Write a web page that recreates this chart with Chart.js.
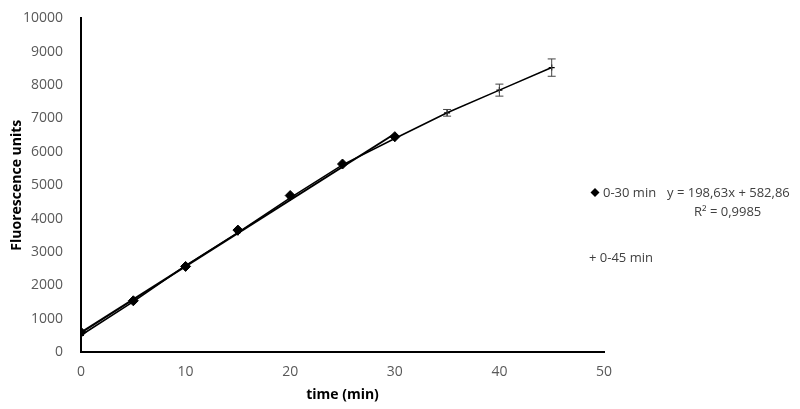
<!DOCTYPE html>
<html>
<head>
<meta charset="utf-8">
<script src="https://cdn.jsdelivr.net/npm/chart.js@4/dist/chart.umd.min.js"></script>
<style>
  html, body { margin: 0; padding: 0; background: #fff; }
  #wrap { width: 800px; height: 409px; }
</style>
</head>
<body>
<div id="wrap"><canvas id="fluoChart"></canvas></div>
<script>
// Data
const timeShort = [0, 5, 10, 15, 20, 25, 30];
const fluoShort = [590, 1535, 2565, 3655, 4690, 5635, 6455];
const timeLong = [0, 5, 10, 15, 20, 25, 30, 35, 40, 45];
const fluoLong = [500, 1510, 2590, 3580, 4620, 5610, 6400, 7170, 7850, 8525];
const errLong = [0, 0, 0, 0, 0, 0, 0, 100, 180, 260];
const trendX = [0, 30];
const trendY = [582.86, 6541.76];
const xTicks = [0, 10, 20, 30, 40, 50];

const tickColor = '#595959';
const fontFam = '"Open Sans", "DejaVu Sans", sans-serif';

const pairs = (xs, ys) => xs.map((x, i) => ({ x: x, y: ys[i] }));

// error bars for the 0-45 series
const errorBars = {
    id: 'errorBars',
    afterDatasetsDraw(chart) {
        const ctx = chart.ctx;
        const xs = chart.scales.x, ys = chart.scales.y;
        ctx.save();
        ctx.strokeStyle = '#444';
        ctx.lineWidth = 1;
        timeLong.forEach((t, i) => {
            if (!errLong[i]) return;
            const px = xs.getPixelForValue(t);
            const top = ys.getPixelForValue(fluoLong[i] + errLong[i]);
            const bot = ys.getPixelForValue(fluoLong[i] - errLong[i]);
            ctx.beginPath();
            ctx.moveTo(px, top); ctx.lineTo(px, bot);
            ctx.moveTo(px - 4, top); ctx.lineTo(px + 4, top);
            ctx.moveTo(px - 4, bot); ctx.lineTo(px + 4, bot);
            ctx.stroke();
        });
        ctx.restore();
    }
};

// legend with trendline label, drawn at the right like the original
const sideLegend = {
    id: 'sideLegend',
    afterDraw(chart) {
        const ctx = chart.ctx;
        ctx.save();
        ctx.font = '13px ' + fontFam;
        ctx.textBaseline = 'middle';
        // diamond
        ctx.fillStyle = '#000';
        ctx.beginPath();
        ctx.moveTo(595, 188); ctx.lineTo(599.5, 192.5); ctx.lineTo(595, 197); ctx.lineTo(590.5, 192.5);
        ctx.closePath(); ctx.fill();
        ctx.fillStyle = '#404040';
        ctx.fillText('0-30 min', 603, 193);
        ctx.fillText('y = 198,63x + 582,86', 667, 193);
        ctx.fillText('R\u00B2 = 0,9985', 694, 212);
        ctx.fillText('+ 0-45 min', 589, 258);
        ctx.restore();
    }
};

new Chart(document.getElementById('fluoChart'), {
    type: 'scatter',
    data: {
        datasets: [
            {
                label: '0-45 min',
                data: pairs(timeLong, fluoLong),
                showLine: true,
                borderColor: '#000',
                borderWidth: 1.6,
                pointStyle: 'cross',
                pointRadius: 3,
                pointBorderColor: '#000',
                pointBorderWidth: 1.2
            },
            {
                label: 'trend',
                data: pairs(trendX, trendY),
                showLine: true,
                borderColor: '#000',
                borderWidth: 2,
                pointRadius: 0
            },
            {
                label: '0-30 min',
                data: pairs(timeShort, fluoShort),
                showLine: false,
                pointStyle: 'rectRot',
                pointRadius: 5,
                backgroundColor: '#000',
                borderColor: '#000'
            }
        ]
    },
    options: {
        responsive: true,
        maintainAspectRatio: false,
        animation: false,
        layout: { padding: { left: 0, right: 196, top: 13, bottom: 0 } },
        plugins: {
            legend: { display: false },
            tooltip: { enabled: false }
        },
        scales: {
            x: {
                type: 'linear',
                min: 0,
                max: 50,
                afterBuildTicks: (s) => { s.ticks = xTicks.map(v => ({ value: v })); },
                afterFit: (s) => { s.height = 57; },
                grid: { display: false },
                border: { display: true, color: '#000', width: 2 },
                ticks: { color: tickColor, padding: 4, font: { family: fontFam, size: 14 } },
                title: {
                    display: true,
                    text: 'time (min)',
                    color: '#000',
                    font: { family: fontFam, size: 14, weight: 'bold' },
                    padding: { top: 4, bottom: 6 }
                }
            },
            y: {
                min: 0,
                max: 10000,
                afterFit: (s) => { s.width = 81; },
                grid: { display: false },
                border: { display: true, color: '#000', width: 2 },
                ticks: {
                    stepSize: 1000,
                    color: tickColor,
                    padding: 10,
                    font: { family: fontFam, size: 14 },
                    callback: (v) => String(v)
                },
                title: {
                    display: true,
                    text: 'Fluorescence units',
                    color: '#000',
                    font: { family: fontFam, size: 14, weight: 'bold' },
                    padding: { top: 9, bottom: 0 }
                }
            }
        }
    },
    plugins: [errorBars, sideLegend]
});
</script>
</body>
</html>
